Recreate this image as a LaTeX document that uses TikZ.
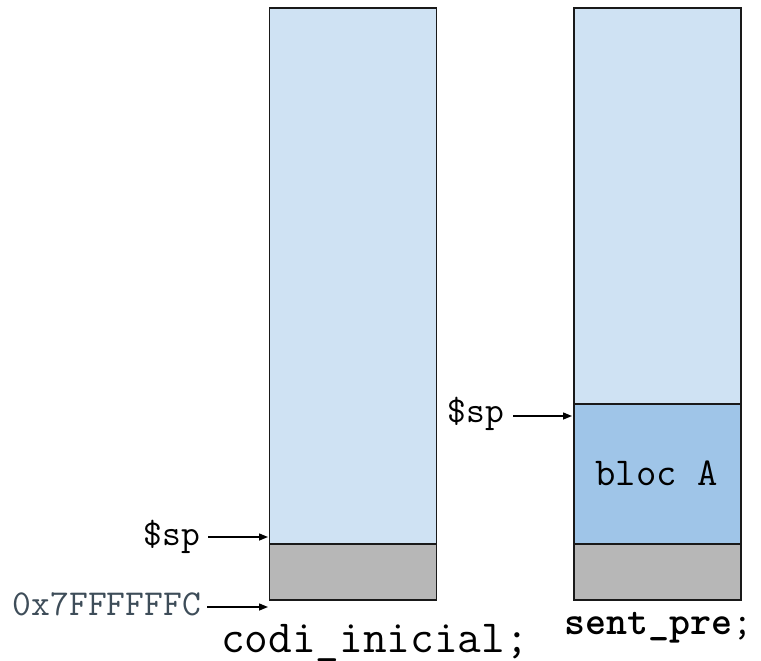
\documentclass[tikz,border=0pt]{standalone}
\usepackage{fontspec}
\usetikzlibrary{arrows.meta}

\definecolor{stackfree}{HTML}{CFE2F3}
\definecolor{blocfill}{HTML}{9FC5E8}
\definecolor{reserved}{HTML}{B7B7B7}
\definecolor{addrtext}{HTML}{3E4D59}

\tikzset{
  region/.style={draw=black!90, line width=1.8pt, inner sep=0pt, minimum width=167pt},
  ptr/.style={line width=1.4pt, -{Triangle[length=9pt,width=7pt]}},
  memlabel/.style={inner sep=0pt, font=\ttfamily\fontsize{36.5}{36.5}\selectfont},
  caption/.style={inner sep=0pt, anchor=base}
}

\begin{document}
\begin{tikzpicture}[x=1pt,y=-1pt]
\useasboundingbox (0,0) rectangle (761,661);

% stack before the call
\node[region, fill=stackfree, minimum height=536pt] (freeL) at (353,276) {};
\node[region, fill=reserved, minimum height=56pt] (baseL) at (353,572) {};

% stack after reserving block A
\node[region, fill=stackfree, minimum height=396pt] (freeR) at (657.5,206) {};
\node[region, fill=blocfill, minimum height=140pt] (blocA) at (657.5,474) {};
\node[caption, font=\ttfamily\fontsize{39.5}{39.5}\selectfont] (blocAtxt) at (656.5,485) {bloc A};
\node[region, fill=reserved, minimum height=56pt] (baseR) at (657.5,572) {};

% pointers
\coordinate (spLtip) at (268,537);
\coordinate (topTip) at (268,607);
\coordinate (spRtip) at (572,416);

\node[memlabel, anchor=base east] (spL) at (200,545) {\$sp};
\node[memlabel, anchor=base east, text=addrtext] (addr) at (201,615) {0x7FFFFFFC};
\node[memlabel, anchor=base east] (spR) at (504,422) {\$sp};

\draw[ptr] ([xshift=8pt]spL.east |- spLtip) -- (spLtip);
\draw[ptr] ([xshift=6pt]addr.east |- topTip) -- (topTip);
\draw[ptr] ([xshift=9pt]spR.east |- spRtip) -- (spRtip);

% captions
\node[caption, font=\ttfamily\fontsize{46}{46}\selectfont] (capL) at (375,652) {codi\_inicial;};
\node[caption, font=\ttfamily\fontsize{40}{40}\selectfont] (capR) at (658.5,634) {\textbf{sent\_pre};};
\end{tikzpicture}
\end{document}
